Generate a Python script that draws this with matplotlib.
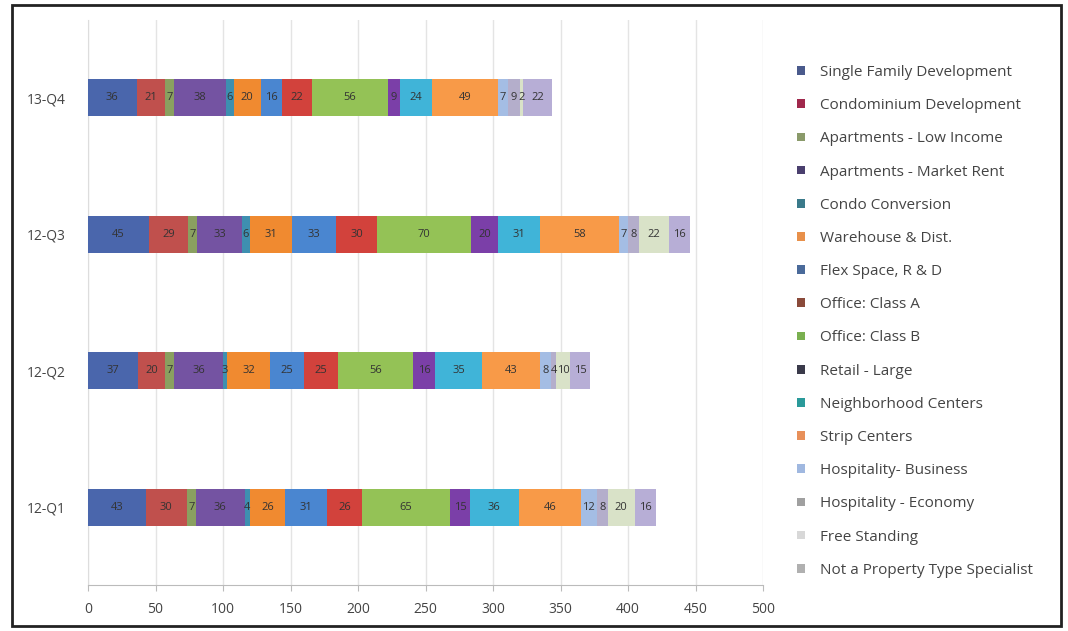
import matplotlib
matplotlib.use("Agg")
import matplotlib.pyplot as plt
from matplotlib.patches import Rectangle, Patch
import numpy as np

plt.rcParams['font.family'] = ['Open Sans', 'DejaVu Sans']

categories = ['12-Q1', '12-Q2', '12-Q3', '13-Q4']
series_names = [
    'Single Family Development', 'Condominium Development', 'Apartments - Low Income',
    'Apartments - Market Rent', 'Condo Conversion', 'Warehouse & Dist.',
    'Flex Space, R & D', 'Office: Class A', 'Office: Class B', 'Retail - Large',
    'Neighborhood Centers', 'Strip Centers', 'Hospitality- Business',
    'Hospitality - Economy', 'Free Standing', 'Not a Property Type Specialist',
]
single_family = [43, 37, 45, 36]
condo_dev = [30, 20, 29, 21]
apt_low = [7, 7, 7, 7]
apt_market = [36, 36, 33, 38]
condo_conv = [4, 3, 6, 6]
warehouse = [26, 32, 31, 20]
flex = [31, 25, 33, 16]
office_a = [26, 25, 30, 22]
office_b = [65, 56, 70, 56]
retail = [15, 16, 20, 9]
neighborhood = [36, 35, 31, 24]
strip = [46, 43, 58, 49]
hosp_business = [12, 8, 7, 7]
hosp_economy = [8, 4, 8, 9]
free_standing = [20, 10, 22, 2]
not_specialist = [16, 15, 16, 22]

values = [single_family, condo_dev, apt_low, apt_market, condo_conv, warehouse,
          flex, office_a, office_b, retail, neighborhood, strip, hosp_business,
          hosp_economy, free_standing, not_specialist]
colors = ['#4A66AC', '#C0504D', '#8AA060', '#7453A2', '#3E8FB0', '#F08A30',
          '#4A86D0', '#D2423C', '#94C256', '#7B3FA8', '#40B4D8', '#F89A48',
          '#A4BDE4', '#B4AECB', '#D9E2C8', '#B7AED6']
legend_colors = ['#4A5A8C', '#A0284C', '#8A9A6A', '#4A3F6E', '#3A7A8A', '#E8904A',
                 '#4A6A9A', '#8A4A3A', '#7AB050', '#3A3A4A', '#2A9A9A', '#E8905A',
                 '#A0B8E0', '#A0A0A0', '#D8D8D8', '#B0B0B0']

fig = plt.figure(figsize=(10.68, 6.31), dpi=100)
ax = fig.add_axes([88/1068, 1-585/631, (763-88)/1068, (585-20)/631])

y = np.arange(len(categories))
left = np.zeros(len(categories))
for name, vals, c in zip(series_names, values, colors):
    bars = ax.barh(y, vals, left=left, height=0.27, color=c, label=name, zorder=3)
    for b, v in zip(bars, vals):
        ax.text(b.get_x() + b.get_width()/2, b.get_y() + b.get_height()/2, str(v),
                ha='center', va='center', fontsize=8, color='#333333', zorder=4)
    left += np.array(vals)

ax.set_xlim(0, 500)
ax.set_ylim(-0.57, 3.57)
ax.set_xticks(np.arange(0, 501, 50))
ax.set_yticks(y)
ax.set_yticklabels(categories)
ax.tick_params(axis='both', labelsize=10, colors='#444444', length=0, pad=16)
ax.tick_params(axis='x', length=4, color='#BBBBBB', direction='out', pad=8)
ax.grid(axis='x', color='#E4E4E4', linewidth=1.0, zorder=0)
for s in ['top', 'right']:
    ax.spines[s].set_visible(False)
ax.spines['left'].set_color('#DDDDDD')
ax.spines['bottom'].set_color('#BBBBBB')

handles = [Patch(facecolor=c, edgecolor='none') for c in legend_colors]
fig.legend(handles, series_names, loc='upper left', bbox_to_anchor=(797/1068, 1-65/631),
           frameon=False, fontsize=11, handlelength=0.5, handleheight=0.5,
           handletextpad=1.0, labelspacing=1.19, labelcolor='#444444',
           borderaxespad=0, borderpad=0)

fig.add_artist(Rectangle((0.011, 0.008), 0.982, 0.984, transform=fig.transFigure,
                         fill=False, edgecolor='#222222', linewidth=2))

fig.savefig('out.png', dpi=100)
